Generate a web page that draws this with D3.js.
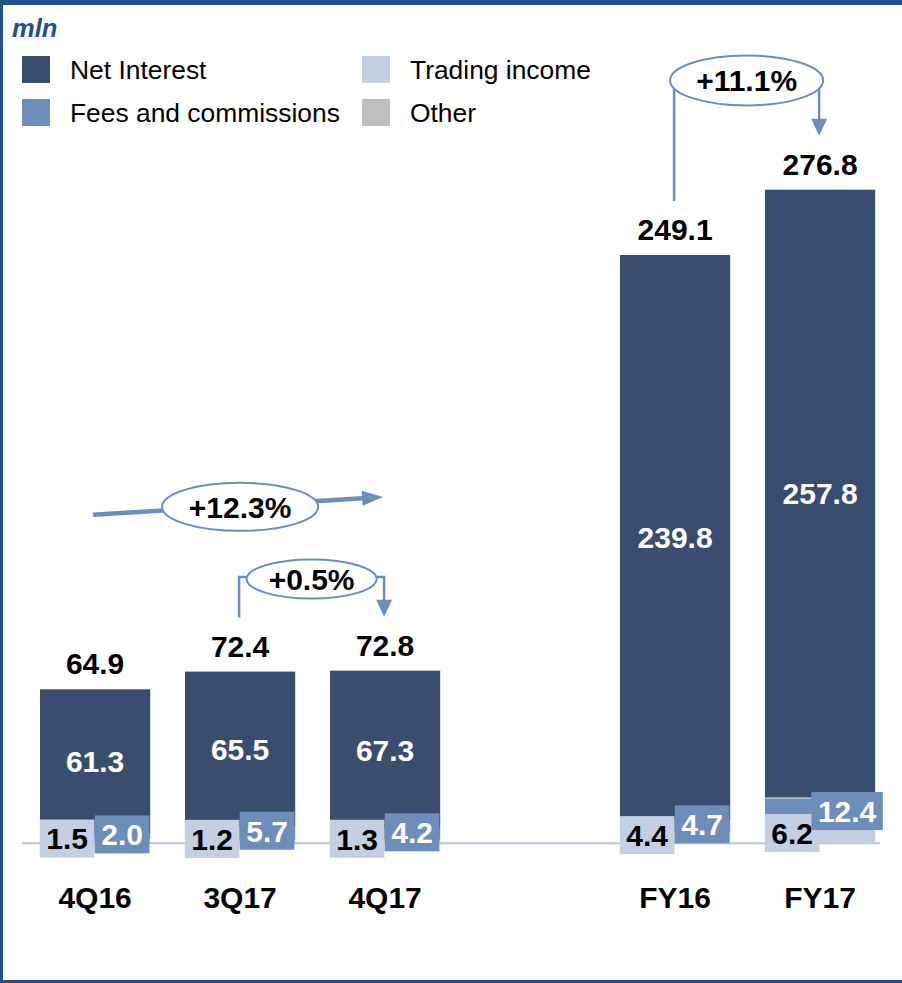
<!DOCTYPE html>
<html>
<head>
<meta charset="utf-8">
<script src="https://cdn.jsdelivr.net/npm/d3@7"></script>
<style>
  html, body { margin: 0; padding: 0; background: #fff; }
  svg { display: block; font-family: "Liberation Sans", Arial, sans-serif; }
</style>
</head>
<body>
<svg id="chart" width="902" height="983"></svg>
<script>
// Revenue breakdown, mln
const categories   = ["4Q16", "3Q17", "4Q17", "FY16", "FY17"];
const netInterest  = [61.3, 65.5, 67.3, 239.8, 257.8];
const fees         = [2.0, 5.7, 4.2, 4.7, 12.4];
const trading      = [1.5, 1.2, 1.3, 4.4, 6.2];
const totals       = [64.9, 72.4, 72.8, 249.1, 276.8];
// "Other" is what remains of each total after the three main items
const other        = totals.map((t, i) => Math.max(0, +(t - netInterest[i] - fees[i] - trading[i]).toFixed(1)));

// Growth annotations: from / to category, label, style, and level (in mln) of the connector
const growth = [
  { from: "4Q16", to: "4Q17", label: "+12.3%", kind: "trend", levelFrom: 138.9, levelTo: 146.5 },
  { from: "3Q17", to: "4Q17", label: "+0.5%",  kind: "bracket", level: 112.5 },
  { from: "FY16", to: "FY17", label: "+11.1%", kind: "bracket", level: 324.0 }
];

const colors = {
  net: "#394e6e",
  fees: "#6d8dbb",
  trading: "#c4cfe2",
  other: "#bfbfbf",
  frame: "#23508a",
  axis: "#b7c6dd",
  arrow: "#6d8dbb"
};

const legendItems = [
  { name: "Net Interest", color: colors.net },
  { name: "Fees and commissions", color: colors.fees },
  { name: "Trading income", color: colors.trading },
  { name: "Other", color: colors.other }
];

const svg = d3.select("#chart");
const W = 902, H = 983;

// Frame
svg.append("rect").attr("x", 0).attr("y", 0).attr("width", W).attr("height", 5).attr("fill", colors.frame);
svg.append("rect").attr("x", 0).attr("y", 0).attr("width", 3).attr("height", H).attr("fill", colors.frame);
svg.append("rect").attr("x", 0).attr("y", H - 3).attr("width", W).attr("height", 3).attr("fill", colors.frame);

// Unit label
svg.append("text")
  .attr("x", 12).attr("y", 37)
  .attr("font-size", 25.5).attr("font-weight", "bold").attr("font-style", "italic")
  .attr("fill", colors.frame)
  .text("mln");

// Scales: a spacer slot separates quarters from full years
const slots = ["4Q16", "3Q17", "4Q17", "gap", "FY16", "FY17"];
const x = d3.scaleBand().domain(slots).range([5.2, 910]).paddingInner(0.24).paddingOuter(0.24);
const y = d3.scaleLinear().domain([0, 300]).range([842.3, 135]);
const bw = x.bandwidth();
const cx = c => x(c) + bw / 2;

// Stacked data: trading at bottom, then fees, other, net interest
const rows = categories.map((c, i) => ({
  cat: c, trading: trading[i], fees: fees[i], other: other[i], net: netInterest[i], total: totals[i]
}));
const keys = ["trading", "fees", "other", "net"];
const stack = d3.stack().keys(keys)(rows);

// Baseline
svg.append("line")
  .attr("x1", 22).attr("x2", 880)
  .attr("y1", y(0) + 1).attr("y2", y(0) + 1)
  .attr("stroke", colors.axis).attr("stroke-width", 2);

// Bars
const layers = svg.append("g").selectAll("g").data(stack).join("g")
  .attr("fill", d => colors[d.key]);
layers.selectAll("rect").data(d => d).join("rect")
  .attr("x", d => x(d.data.cat))
  .attr("width", bw)
  .attr("y", d => y(d[1]))
  .attr("height", d => Math.max(0, y(d[0]) - y(d[1])));

const labelFont = 30;

// Net interest value, centred in its segment
const netLayer = stack.find(s => s.key === "net");
svg.append("g").selectAll("text").data(netLayer).join("text")
  .attr("x", d => cx(d.data.cat))
  .attr("y", d => (y(d[0]) + y(d[1])) / 2)
  .attr("dy", "0.36em")
  .attr("text-anchor", "middle")
  .attr("font-size", labelFont).attr("font-weight", "bold")
  .attr("fill", "#fff")
  .text(d => d.data.net.toFixed(1));

// Boxed labels for the small segments
function boxedLabels(key, dxFromCenter, fill, textColor) {
  const layer = stack.find(s => s.key === key);
  const g = svg.append("g").selectAll("g").data(layer).join("g")
    .attr("transform", d => `translate(${cx(d.data.cat) + dxFromCenter},${(y(d[0]) + y(d[1])) / 2 - 2})`);
  const rect = g.append("rect").attr("fill", fill);
  const txt = g.append("text")
    .attr("text-anchor", "middle")
    .attr("dy", "0.36em")
    .attr("font-size", labelFont).attr("font-weight", "bold")
    .attr("fill", textColor)
    .text(d => d.data[key].toFixed(1));
  txt.each(function () {
    const w = this.getComputedTextLength() + 13;
    d3.select(this.parentNode).select("rect")
      .attr("x", -w / 2).attr("y", -19).attr("width", w).attr("height", 38);
  });
}
boxedLabels("trading", -28, colors.trading, "#000");
boxedLabels("fees", 27, colors.fees, "#fff");

// Totals above bars
svg.append("g").selectAll("text").data(rows).join("text")
  .attr("x", d => cx(d.cat))
  .attr("y", d => y(d.total) - 15)
  .attr("text-anchor", "middle")
  .attr("font-size", labelFont).attr("font-weight", "bold")
  .attr("fill", "#000")
  .text(d => d.total.toFixed(1));

// Category axis
const xAxis = d3.axisBottom(x).tickSize(0).tickValues(categories);
const axisG = svg.append("g").attr("transform", `translate(0,${y(0) + 41})`).call(xAxis);
axisG.select(".domain").remove();
axisG.selectAll("text")
  .attr("font-size", labelFont).attr("font-weight", "bold")
  .attr("font-family", "\"Liberation Sans\", Arial, sans-serif")
  .attr("fill", "#000").attr("dy", "0.71em");

// Legend
const legend = svg.append("g");
legendItems.forEach((item, i) => {
  const col = Math.floor(i / 2), row = i % 2;
  const gx = col === 0 ? 22 : 362;
  const gy = row === 0 ? 56 : 99;
  legend.append("rect").attr("x", gx).attr("y", gy).attr("width", 28).attr("height", 27).attr("fill", item.color);
  legend.append("text").attr("x", gx + 48).attr("y", gy + 23)
    .attr("font-size", 26.4).attr("fill", "#000").text(item.name);
});

// Growth annotations
const ann = svg.append("g");
function arrowHead(tipX, tipY, dirX, dirY, len, half) {
  const bx = tipX - dirX * len, by = tipY - dirY * len;
  const px = -dirY, py = dirX;
  ann.append("path")
    .attr("d", `M${tipX},${tipY}L${bx + px * half},${by + py * half}L${bx - px * half},${by - py * half}Z`)
    .attr("fill", colors.arrow);
}
function pctLabel(mx, my, rx, ry, label) {
  ann.append("ellipse").attr("cx", mx).attr("cy", my).attr("rx", rx).attr("ry", ry)
    .attr("fill", "#fff").attr("stroke", colors.arrow).attr("stroke-width", 2);
  ann.append("text").attr("x", mx).attr("y", my).attr("dy", "0.36em")
    .attr("text-anchor", "middle").attr("font-size", labelFont).attr("font-weight", "bold")
    .attr("fill", "#000").text(label);
}

growth.forEach(g => {
  const i0 = categories.indexOf(g.from), i1 = categories.indexOf(g.to);
  if (g.kind === "trend") {
    const x0 = cx(g.from) - 2, x1 = cx(g.to) - 2;
    const y0 = y(g.levelFrom), y1 = y(g.levelTo);
    const len = Math.hypot(x1 - x0, y1 - y0);
    const ux = (x1 - x0) / len, uy = (y1 - y0) / len;
    ann.append("line").attr("x1", x0).attr("y1", y0).attr("x2", x1 - ux * 16).attr("y2", y1 - uy * 16)
      .attr("stroke", colors.arrow).attr("stroke-width", 4.5);
    arrowHead(x1, y1, ux, uy, 21, 7.5);
    pctLabel((x0 + x1) / 2 + 2, (y0 + y1) / 2 + 1, 78, 24, g.label);
  } else {
    const xa = cx(g.from) - 1, xb = cx(g.to) - 1;
    const lv = y(g.level);
    const ya = y(totals[i0]) - 15 - 39;   // stops above the start total
    const yb = y(totals[i1]) - 15 - 39;   // points to the end total
    ann.append("path")
      .attr("d", `M${xa},${ya}V${lv}H${xb}V${yb - 14}`)
      .attr("fill", "none").attr("stroke", colors.arrow).attr("stroke-width", 2.5);
    arrowHead(xb, yb, 0, 1, 17, 8);
    const rx = g.label.length > 5 ? 76.5 : 65, ry = g.label.length > 5 ? 25 : 19.5;
    pctLabel((xa + xb) / 2, lv + 2, rx, ry, g.label);
  }
});
</script>
</body>
</html>
